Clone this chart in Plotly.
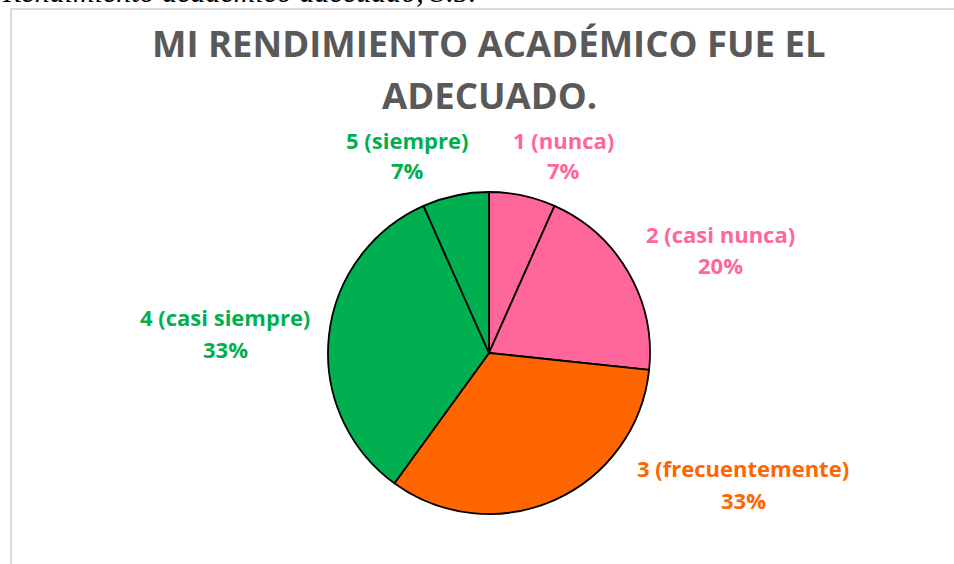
import plotly.graph_objects as go

W, H = 954, 564

categories = ['1 (nunca)', '2 (casi nunca)', '3 (frecuentemente)', '4 (casi siempre)', '5 (siempre)']
counts = [1, 3, 5, 5, 1]
colors = ['#FF6699', '#FF6699', '#FF6600', '#00B050', '#00B050']

# label placement (pixels from top-left): x centre, first line y, second line y
label_x = [563, 720, 743, 225, 407]
label_y1 = [140, 234, 468, 317, 140]
label_y2 = [170, 265, 500, 349, 170]

total = sum(counts)
pcts = [round(100 * c / total) for c in counts]

# pie centre (489, 353) radius 161 in pixels
cx, cy, r = 489, 353, 161

fig = go.Figure()
fig.add_trace(go.Pie(
    labels=categories,
    values=counts,
    sort=False,
    direction='clockwise',
    rotation=0,
    textinfo='none',
    hoverinfo='label+percent',
    marker=dict(colors=colors, line=dict(color='black', width=1.8)),
    domain=dict(x=[(cx - r) / W, (cx + r) / W], y=[(H - cy - r) / H, (H - cy + r) / H]),
    showlegend=False,
))

for lab, p, col, lx, y1, y2 in zip(categories, pcts, colors, label_x, label_y1, label_y2):
    for txt, ly in ((lab, y1), (f'{p}%', y2)):
        fig.add_annotation(
            x=lx / W, y=1 - ly / H, xref='paper', yref='paper',
            xanchor='center', yanchor='middle',
            text=f'<b>{txt}</b>', showarrow=False,
            font=dict(family='Open Sans', size=22, color=col),
        )

# title, two lines
for txt, ty in (('MI RENDIMIENTO ACADÉMICO FUE EL', 43), ('ADECUADO.', 95)):
    fig.add_annotation(
        x=489 / W, y=1 - ty / H, xref='paper', yref='paper',
        xanchor='center', yanchor='middle',
        text=f'<b>{txt}</b>', showarrow=False,
        font=dict(family='Open Sans', size=36.5, color='#595959'),
    )

# cut-off caption above the chart
fig.add_annotation(
    x=0, y=1, xref='paper', yref='paper', xanchor='left', yanchor='bottom',
    yshift=-10.5, text='<i>Rendimiento académico adecuado, 3.5.</i>',
    showarrow=False,
    font=dict(family='Liberation Serif', size=30, color='black'),
)

# chart frame
fig.add_shape(type='line', xref='paper', yref='paper',
              x0=10 / W, x1=1.01, y0=1 - 9 / H, y1=1 - 9 / H,
              line=dict(color='#D9D9D9', width=2))
fig.add_shape(type='line', xref='paper', yref='paper',
              x0=11 / W, x1=11 / W, y0=1 - 9 / H, y1=-0.01,
              line=dict(color='#D9D9D9', width=2))

fig.update_layout(
    width=W, height=H,
    margin=dict(l=0, r=0, t=0, b=0),
    paper_bgcolor='white', plot_bgcolor='white',
)

fig.write_html('out.html', config={'displayModeBar': False},
               post_script="document.body.style.margin='0px';")
